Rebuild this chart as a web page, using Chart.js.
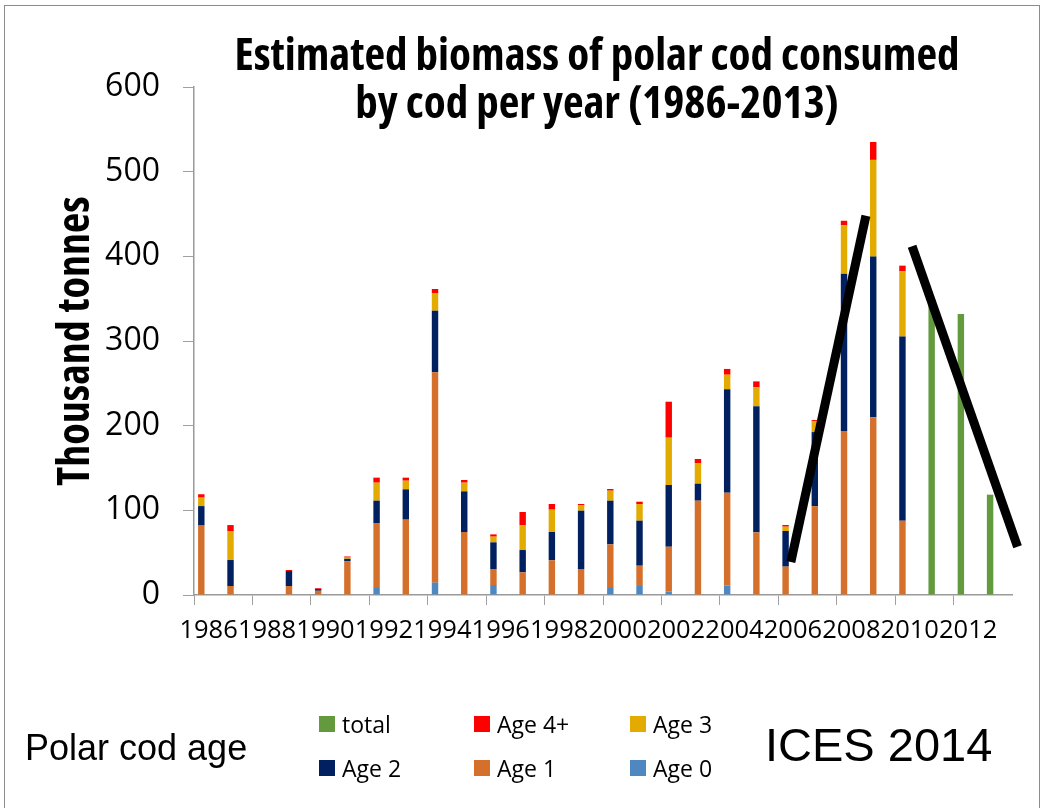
<!DOCTYPE html>
<html>
<head>
<meta charset="utf-8">
<script src="https://cdn.jsdelivr.net/npm/chart.js@4.4.1/dist/chart.umd.min.js"></script>
<style>
  body { margin: 0; background: #fff; }
  #wrap { position: relative; width: 1048px; height: 808px; overflow: hidden; background: #fff; }
  #frame { position: absolute; left: 4px; top: 5px; width: 1034px; height: 860px; border: 1.5px solid #8c8c8c; }
  #chart { position: absolute; left: 0; top: 0; }
  .title { position: absolute; left: 190px; width: 814px; top: 29px; text-align: center; white-space: nowrap;
           font-family: 'Open Sans', sans-serif; font-weight: bold; font-stretch: 75%; font-size: 45px;
           line-height: 48px; color: #000; }
  .note { position: absolute; font-family: 'Liberation Sans', Arial, sans-serif; color: #000; white-space: nowrap; line-height: 1; }
  .leg { position: absolute; display: flex; align-items: center; white-space: nowrap;
         font-family: 'Open Sans', sans-serif; font-size: 23px; color: #000; }
  .leg span.box { display: inline-block; width: 16px; height: 16px; margin-right: 7px; }
</style>
</head>
<body>
<div id="wrap">
  <canvas id="chart" width="1048" height="808"></canvas>
  <div id="frame"></div>
  <div class="title">Estimated biomass of polar cod consumed<br>by cod per year (1986-2013)</div>
  <div class="note" style="left:25px; top:730px; font-size:36px;">Polar cod age</div>
  <div class="note" style="left:765px; top:721px; font-size:47px;">ICES 2014</div>
  <div id="legend"></div>
</div>
<script>
const years = ["1986", "1987", "1988", "1989", "1990", "1991", "1992", "1993", "1994", "1995",
  "1996", "1997", "1998", "1999", "2000", "2001", "2002", "2003", "2004", "2005",
  "2006", "2007", "2008", "2009", "2010", "2011", "2012", "2013"];

// thousand tonnes
const age0 = [0, 0, 0, 0, 0, 0, 9.4, 0, 14.6, 0, 11.8, 0, 0, 0, 9.4, 10.6, 3.9, 0, 11, 0, 0, 0, 0, 0, 0, null, null, null];
const age1 = [82, 10.6, 0, 10.6, 5, 40, 75.6, 89, 248.4, 74.4, 18.9, 26.8, 41, 30.7, 50.4, 24, 53.1, 111.4, 109.8, 74, 33.5, 105, 193.7, 210, 87.8, null, null, null];
const age2 = [23, 30.7, 0, 17.7, 2, 2.7, 26.4, 35.8, 72.8, 48, 31.5, 26.3, 33.4, 68.9, 51.6, 53.2, 72.9, 20.1, 122.2, 148.9, 42.1, 87.4, 185.8, 189.7, 217.4, null, null, null];
const age3 = [10, 34.3, 0, 0, 0, 1.5, 21.3, 10.2, 20.9, 10.3, 6.7, 29.2, 26.4, 6.3, 11.8, 19.7, 55.9, 24, 17.2, 22.4, 5.1, 12.6, 57.1, 114.2, 77.1, null, null, null];
const age4 = [4, 7, 0, 1.2, 1, 1.3, 5.9, 3.6, 4.7, 3.1, 2.7, 15.7, 6.7, 1.6, 2, 2.7, 42.5, 5.1, 6.8, 7, 2, 1.6, 5.4, 21.2, 6.7, null, null, null];
const total = [null, null, null, null, null, null, null, null, null, null, null, null, null, null,
  null, null, null, null, null, null, null, null, null, null, null, 349.2, 331.9, 118.5];

// hand drawn trend strokes (x = year index, y = thousand tonnes)
const upX = [19.93, 22.5];
const upY = [39, 448];
const downX = [24.08, 27.69];
const downY = [412, 57];

const legendOrder = ["total", "Age 4+", "Age 3", "Age 2", "Age 1", "Age 0"];

const sans = "'Open Sans', sans-serif";
const axisGray = "#9a9a9a";

function bar(label, data, color) {
  return { label: label, data: data, backgroundColor: color, borderWidth: 0,
           barPercentage: 0.44, categoryPercentage: 1.0, stack: "s" };
}
function stroke(xs, ys) {
  return { type: "line", data: xs.map((x, i) => ({ x: x, y: ys[i] })),
           xAxisID: "xl", yAxisID: "yl", borderColor: "#000", borderWidth: 9,
           borderCapStyle: "butt", pointRadius: 0, clip: false, order: -1 };
}

const chart = new Chart(document.getElementById("chart"), {
  type: "bar",
  data: {
    labels: years,
    datasets: [
      bar("Age 0", age0, "#4F88C0"),
      bar("Age 1", age1, "#D4702C"),
      bar("Age 2", age2, "#00205F"),
      bar("Age 3", age3, "#E3AA00"),
      bar("Age 4+", age4, "#FF0000"),
      bar("total", total, "#639A3E"),
      stroke(upX, upY),
      stroke(downX, downY)
    ]
  },
  options: {
    responsive: false,
    animation: false,
    layout: { padding: { top: 87, right: 36, left: 0, bottom: 0 } },
    plugins: { legend: { display: false }, tooltip: { enabled: false } },
    scales: {
      x: {
        stacked: true,
        offset: true,
        grid: { offset: true, drawOnChartArea: false, tickLength: 10,
                color: (c) => (c.index % 2 === 0 ? "#a0a0a0" : "rgba(0,0,0,0)") },
        border: { color: axisGray, width: 1.5 },
        ticks: { autoSkip: false, maxRotation: 0, minRotation: 0, padding: 10, color: "#000",
                 font: { family: sans, size: 25.5 },
                 callback: (v, i) => (i % 2 === 0 ? years[i] : "") },
        afterFit: (s) => { s.height = 213; }
      },
      xl: { type: "linear", display: false, offset: false, min: -0.5, max: 27.5 },
      y: {
        stacked: true,
        min: 0, max: 600,
        grid: { drawOnChartArea: false, tickLength: 11, color: "#a0a0a0" },
        border: { color: axisGray, width: 1.5 },
        ticks: { stepSize: 100, padding: 23, color: "#000",
                 font: { family: sans, size: 32 } },
        title: { display: true, text: "Thousand tonnes", color: "#000",
                 font: { family: sans, size: 44, weight: "bold condensed" }, padding: { top: 50, bottom: 0 } },
        afterFit: (s) => { s.width = 194; }
      },
      yl: { display: false, min: 0, max: 600 }
    }
  }
});

// legend as html, 3 columns x 2 rows like the original
const legCols = [319, 474, 630];
const legRows = [724, 768];
const legend = document.getElementById("legend");
legendOrder.forEach((name, i) => {
  const ds = chart.data.datasets.find((d) => d.label === name);
  const item = document.createElement("div");
  item.className = "leg";
  item.style.left = legCols[i % 3] + "px";
  item.style.top = (legRows[Math.floor(i / 3)] - 20) + "px";
  item.style.height = "40px";
  item.innerHTML = '<span class="box" style="background:' + ds.backgroundColor + '"></span>' + ds.label;
  legend.appendChild(item);
});
</script>
</body>
</html>
